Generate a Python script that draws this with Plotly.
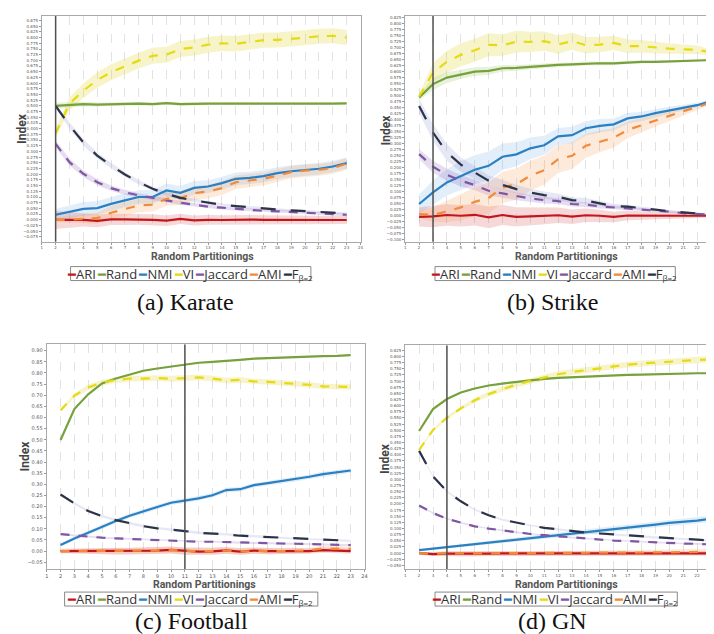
import plotly.graph_objects as go

# ---------------- data ----------------
x_vals = list(range(2, 24))
series_names = ["ARI", "Rand", "NMI", "VI", "Jaccard", "AMI", "F"]
name_subs = ["", "", "", "", "", "", "β=2"]
series_colors = ["#c3161c", "#76a13c", "#2b80c2", "#e6da12", "#7e57a4", "#f28a3a", "#2c3346"]
band_colors = ["rgba(214,60,60,0.20)", "rgba(150,190,90,0.22)", "rgba(110,170,225,0.20)",
               "rgba(225,215,60,0.28)", "rgba(140,100,185,0.22)", "rgba(245,160,90,0.22)",
               "rgba(120,130,200,0.18)"]
series_dash = ["solid", "solid", "solid", "dash", "dash", "dash", "longdash"]

captions = ["(a) Karate", "(b) Strike", "(c) Football", "(d) GN"]
x_title = "Random Partitionings"
y_title = "Index"
marker_x = [2, 3, 11, 4]

# Karate
k_ari = [0.000, 0.000, 0.000, -0.005, 0.002, 0.002, 0.002, 0.000, -0.004, 0.004, -0.003, 0.000, -0.001, 0.001, 0.001, 0.000, 0.000, 0.000, -0.001, -0.001, -0.001, -0.001]
k_rand = [0.500, 0.505, 0.508, 0.506, 0.508, 0.510, 0.510, 0.508, 0.512, 0.508, 0.510, 0.510, 0.510, 0.511, 0.511, 0.510, 0.510, 0.511, 0.510, 0.510, 0.510, 0.511]
k_nmi = [0.022, 0.034, 0.048, 0.051, 0.070, 0.085, 0.100, 0.100, 0.129, 0.118, 0.140, 0.146, 0.161, 0.180, 0.184, 0.192, 0.205, 0.213, 0.219, 0.224, 0.234, 0.249]
k_vi = [0.380, 0.510, 0.567, 0.614, 0.648, 0.674, 0.699, 0.720, 0.725, 0.750, 0.757, 0.769, 0.775, 0.773, 0.782, 0.789, 0.790, 0.794, 0.800, 0.806, 0.808, 0.800]
k_jac = [0.333, 0.253, 0.202, 0.165, 0.139, 0.121, 0.107, 0.095, 0.085, 0.075, 0.066, 0.058, 0.053, 0.048, 0.044, 0.039, 0.037, 0.034, 0.031, 0.028, 0.025, 0.022]
k_ami = [0.000, 0.000, 0.004, 0.007, 0.031, 0.048, 0.063, 0.066, 0.092, 0.095, 0.117, 0.124, 0.139, 0.165, 0.173, 0.180, 0.194, 0.209, 0.216, 0.219, 0.227, 0.246]
k_f = [0.500, 0.414, 0.340, 0.282, 0.238, 0.199, 0.165, 0.136, 0.114, 0.096, 0.085, 0.075, 0.066, 0.060, 0.054, 0.048, 0.045, 0.041, 0.037, 0.034, 0.031, 0.028]
k_ari_e = [0.040, 0.035, 0.030, 0.028, 0.025, 0.025, 0.024, 0.024, 0.023, 0.023, 0.022, 0.022, 0.021, 0.021, 0.020, 0.020, 0.020, 0.019, 0.019, 0.018, 0.018, 0.018]
k_rand_e = [0.014, 0.012, 0.010, 0.009, 0.008, 0.008, 0.008, 0.007, 0.007, 0.007, 0.006, 0.006, 0.006, 0.006, 0.006, 0.005, 0.005, 0.005, 0.005, 0.005, 0.005, 0.005]
k_nmi_e = [0.025, 0.028, 0.030, 0.030, 0.030, 0.030, 0.030, 0.030, 0.030, 0.030, 0.030, 0.028, 0.028, 0.028, 0.027, 0.027, 0.026, 0.026, 0.025, 0.025, 0.025, 0.025]
k_vi_e = [0.020, 0.028, 0.032, 0.034, 0.035, 0.035, 0.035, 0.035, 0.035, 0.035, 0.035, 0.035, 0.034, 0.034, 0.033, 0.033, 0.033, 0.033, 0.033, 0.033, 0.033, 0.033]
k_jac_e = [0.015, 0.015, 0.014, 0.013, 0.012, 0.011, 0.010, 0.010, 0.009, 0.009, 0.008, 0.008, 0.008, 0.007, 0.007, 0.007, 0.007, 0.006, 0.006, 0.006, 0.006, 0.006]
k_ami_e = [0.010, 0.015, 0.020, 0.025, 0.030, 0.030, 0.030, 0.030, 0.030, 0.030, 0.030, 0.030, 0.030, 0.030, 0.030, 0.028, 0.028, 0.027, 0.027, 0.026, 0.026, 0.025]
k_f_e = [0.010, 0.014, 0.014, 0.013, 0.012, 0.011, 0.010, 0.009, 0.008, 0.008, 0.007, 0.007, 0.007, 0.006, 0.006, 0.006, 0.006, 0.005, 0.005, 0.005, 0.005, 0.005]

# Strike
s_ari = [-0.005, -0.003, 0.003, 0.000, 0.004, -0.007, 0.003, -0.005, -0.003, -0.001, 0.002, -0.004, 0.002, 0.000, -0.005, 0.001, 0.000, 0.000, 0.000, 0.000, 0.000, 0.000]
s_rand = [0.493, 0.549, 0.576, 0.590, 0.601, 0.604, 0.615, 0.617, 0.622, 0.625, 0.629, 0.631, 0.635, 0.636, 0.635, 0.640, 0.642, 0.642, 0.643, 0.644, 0.646, 0.649]
s_nmi = [0.049, 0.097, 0.139, 0.167, 0.192, 0.208, 0.246, 0.256, 0.281, 0.294, 0.331, 0.336, 0.365, 0.375, 0.381, 0.406, 0.414, 0.428, 0.440, 0.451, 0.461, 0.478]
s_vi = [0.497, 0.597, 0.642, 0.671, 0.690, 0.713, 0.711, 0.726, 0.725, 0.728, 0.714, 0.728, 0.711, 0.714, 0.721, 0.707, 0.707, 0.701, 0.697, 0.694, 0.692, 0.681]
s_jac = [0.257, 0.204, 0.171, 0.146, 0.128, 0.104, 0.093, 0.081, 0.072, 0.065, 0.061, 0.049, 0.046, 0.039, 0.035, 0.032, 0.026, 0.021, 0.017, 0.011, 0.008, 0.004]
s_ami = [0.007, 0.004, 0.018, 0.035, 0.058, 0.074, 0.118, 0.132, 0.167, 0.190, 0.236, 0.250, 0.292, 0.310, 0.325, 0.358, 0.378, 0.397, 0.417, 0.436, 0.453, 0.472]
s_f = [0.458, 0.347, 0.264, 0.213, 0.180, 0.146, 0.129, 0.111, 0.097, 0.086, 0.079, 0.065, 0.063, 0.051, 0.040, 0.038, 0.031, 0.025, 0.019, 0.014, 0.008, 0.004]
s_ari_e = [0.040, 0.045, 0.045, 0.045, 0.045, 0.045, 0.042, 0.040, 0.038, 0.035, 0.032, 0.030, 0.028, 0.025, 0.022, 0.020, 0.018, 0.016, 0.014, 0.012, 0.010, 0.008]
s_rand_e = [0.012, 0.025, 0.022, 0.020, 0.018, 0.016, 0.014, 0.012, 0.011, 0.010, 0.009, 0.008, 0.008, 0.007, 0.007, 0.006, 0.006, 0.005, 0.005, 0.005, 0.004, 0.004]
s_nmi_e = [0.040, 0.050, 0.055, 0.060, 0.060, 0.060, 0.055, 0.050, 0.045, 0.040, 0.035, 0.035, 0.030, 0.028, 0.025, 0.022, 0.020, 0.018, 0.015, 0.012, 0.010, 0.008]
s_vi_e = [0.010, 0.040, 0.045, 0.048, 0.048, 0.048, 0.045, 0.045, 0.042, 0.040, 0.038, 0.036, 0.034, 0.032, 0.030, 0.028, 0.026, 0.024, 0.022, 0.020, 0.018, 0.012]
s_jac_e = [0.020, 0.025, 0.025, 0.024, 0.022, 0.020, 0.018, 0.016, 0.015, 0.014, 0.012, 0.011, 0.010, 0.009, 0.008, 0.007, 0.006, 0.005, 0.005, 0.004, 0.004, 0.003]
s_ami_e = [0.015, 0.030, 0.045, 0.055, 0.060, 0.065, 0.065, 0.065, 0.062, 0.060, 0.058, 0.055, 0.050, 0.045, 0.040, 0.035, 0.030, 0.025, 0.020, 0.016, 0.012, 0.008]
s_f_e = [0.030, 0.035, 0.035, 0.030, 0.026, 0.022, 0.020, 0.018, 0.016, 0.015, 0.014, 0.012, 0.011, 0.010, 0.009, 0.008, 0.007, 0.006, 0.005, 0.004, 0.004, 0.003]

# Football
f_ari = [0.000, 0.000, 0.000, 0.000, 0.000, 0.000, 0.001, 0.002, 0.005, 0.000, -0.002, -0.001, 0.003, -0.002, 0.002, 0.000, 0.000, 0.002, 0.000, 0.004, 0.002, 0.000]
f_rand = [0.499, 0.638, 0.704, 0.753, 0.775, 0.793, 0.810, 0.820, 0.829, 0.838, 0.846, 0.850, 0.856, 0.859, 0.864, 0.867, 0.870, 0.873, 0.874, 0.876, 0.877, 0.880]
f_nmi = [0.027, 0.057, 0.082, 0.109, 0.135, 0.159, 0.180, 0.198, 0.217, 0.226, 0.237, 0.251, 0.274, 0.278, 0.296, 0.305, 0.314, 0.323, 0.334, 0.346, 0.353, 0.362]
f_vi = [0.632, 0.698, 0.735, 0.757, 0.768, 0.775, 0.775, 0.777, 0.774, 0.778, 0.780, 0.775, 0.766, 0.769, 0.762, 0.760, 0.756, 0.751, 0.747, 0.740, 0.738, 0.737]
f_jac = [0.076, 0.070, 0.064, 0.060, 0.057, 0.054, 0.051, 0.049, 0.048, 0.045, 0.042, 0.042, 0.040, 0.037, 0.037, 0.036, 0.034, 0.033, 0.031, 0.030, 0.028, 0.027]
f_ami = [0.000, 0.000, 0.000, 0.000, 0.000, 0.000, 0.001, 0.002, 0.004, 0.000, -0.001, 0.000, 0.002, -0.001, 0.001, 0.000, 0.000, 0.001, 0.003, 0.012, 0.012, 0.010]
f_f = [0.254, 0.214, 0.180, 0.157, 0.139, 0.124, 0.112, 0.102, 0.097, 0.090, 0.082, 0.079, 0.075, 0.069, 0.066, 0.061, 0.058, 0.055, 0.052, 0.051, 0.049, 0.046]
f_ari_e = [0.010, 0.012, 0.013, 0.014, 0.015, 0.015, 0.015, 0.015, 0.016, 0.016, 0.016, 0.016, 0.015, 0.015, 0.014, 0.014, 0.013, 0.013, 0.012, 0.012, 0.012, 0.012]
f_rand_e = [0.004, 0.004, 0.003, 0.003, 0.003, 0.003, 0.003, 0.003, 0.003, 0.003, 0.003, 0.003, 0.003, 0.003, 0.003, 0.003, 0.003, 0.003, 0.003, 0.003, 0.003, 0.003]
f_nmi_e = [0.006, 0.008, 0.009, 0.010, 0.010, 0.010, 0.010, 0.010, 0.010, 0.010, 0.010, 0.010, 0.010, 0.010, 0.010, 0.010, 0.010, 0.010, 0.010, 0.010, 0.010, 0.010]
f_vi_e = [0.006, 0.010, 0.012, 0.013, 0.013, 0.013, 0.013, 0.013, 0.013, 0.013, 0.013, 0.013, 0.013, 0.013, 0.012, 0.012, 0.012, 0.012, 0.012, 0.012, 0.012, 0.012]
f_jac_e = [0.004, 0.004, 0.004, 0.004, 0.004, 0.004, 0.004, 0.004, 0.004, 0.004, 0.004, 0.004, 0.004, 0.004, 0.004, 0.004, 0.004, 0.004, 0.004, 0.004, 0.004, 0.004]
f_ami_e = [0.008, 0.010, 0.012, 0.013, 0.014, 0.014, 0.014, 0.015, 0.015, 0.015, 0.015, 0.015, 0.015, 0.015, 0.014, 0.014, 0.013, 0.013, 0.012, 0.012, 0.012, 0.012]
f_f_e = [0.005, 0.006, 0.006, 0.006, 0.006, 0.006, 0.006, 0.006, 0.006, 0.006, 0.006, 0.005, 0.005, 0.005, 0.005, 0.005, 0.005, 0.005, 0.005, 0.005, 0.005, 0.005]

# GN
g_ari = [0.000, -0.004, -0.002, -0.003, -0.004, -0.002, -0.001, -0.001, -0.001, -0.001, -0.001, -0.001, -0.001, 0.000, 0.001, -0.001, -0.001, -0.001, 0.000, 0.000, -0.001, -0.001]
g_rand = [0.497, 0.586, 0.627, 0.654, 0.670, 0.682, 0.690, 0.697, 0.702, 0.709, 0.713, 0.716, 0.718, 0.721, 0.724, 0.725, 0.726, 0.728, 0.729, 0.730, 0.732, 0.732]
g_nmi = [0.012, 0.018, 0.026, 0.031, 0.036, 0.043, 0.050, 0.055, 0.061, 0.068, 0.073, 0.080, 0.085, 0.092, 0.097, 0.103, 0.109, 0.116, 0.123, 0.127, 0.132, 0.140]
g_vi = [0.420, 0.501, 0.551, 0.589, 0.622, 0.647, 0.667, 0.686, 0.701, 0.714, 0.728, 0.737, 0.745, 0.753, 0.760, 0.767, 0.772, 0.776, 0.779, 0.782, 0.785, 0.789]
g_jac = [0.194, 0.163, 0.140, 0.123, 0.109, 0.100, 0.092, 0.084, 0.078, 0.073, 0.068, 0.063, 0.059, 0.055, 0.051, 0.049, 0.046, 0.043, 0.041, 0.039, 0.038, 0.035]
g_ami = [0.000, -0.003, -0.001, -0.002, -0.003, -0.001, 0.000, 0.000, 0.000, 0.000, 0.000, 0.000, 0.000, 0.001, 0.001, 0.001, 0.001, 0.002, 0.003, 0.004, 0.005, 0.006]
g_f = [0.416, 0.312, 0.251, 0.211, 0.177, 0.154, 0.136, 0.123, 0.113, 0.103, 0.096, 0.089, 0.084, 0.080, 0.076, 0.072, 0.068, 0.063, 0.061, 0.058, 0.055, 0.051]
g_ari_e = [0.006, 0.008, 0.009, 0.010, 0.010, 0.010, 0.010, 0.010, 0.010, 0.010, 0.010, 0.010, 0.010, 0.010, 0.010, 0.010, 0.010, 0.010, 0.010, 0.010, 0.010, 0.010]
g_rand_e = [0.004, 0.003, 0.003, 0.003, 0.003, 0.003, 0.003, 0.003, 0.003, 0.003, 0.003, 0.003, 0.003, 0.003, 0.003, 0.003, 0.003, 0.003, 0.003, 0.003, 0.003, 0.003]
g_nmi_e = [0.004, 0.005, 0.006, 0.007, 0.008, 0.008, 0.009, 0.009, 0.010, 0.010, 0.010, 0.011, 0.011, 0.011, 0.012, 0.012, 0.012, 0.012, 0.013, 0.013, 0.013, 0.013]
g_vi_e = [0.004, 0.006, 0.007, 0.008, 0.009, 0.010, 0.010, 0.011, 0.011, 0.011, 0.012, 0.012, 0.012, 0.012, 0.012, 0.012, 0.012, 0.012, 0.013, 0.013, 0.013, 0.013]
g_jac_e = [0.003, 0.003, 0.003, 0.003, 0.003, 0.003, 0.003, 0.003, 0.003, 0.003, 0.003, 0.003, 0.003, 0.003, 0.003, 0.003, 0.003, 0.003, 0.003, 0.003, 0.003, 0.003]
g_ami_e = [0.006, 0.008, 0.009, 0.010, 0.010, 0.010, 0.010, 0.010, 0.010, 0.010, 0.010, 0.010, 0.010, 0.010, 0.011, 0.011, 0.011, 0.012, 0.012, 0.012, 0.012, 0.012]
g_f_e = [0.004, 0.004, 0.004, 0.004, 0.004, 0.004, 0.004, 0.004, 0.004, 0.004, 0.004, 0.004, 0.004, 0.004, 0.004, 0.004, 0.004, 0.004, 0.004, 0.004, 0.004, 0.004]

panels = [
    ([k_ari, k_rand, k_nmi, k_vi, k_jac, k_ami, k_f],
     [k_ari_e, k_rand_e, k_nmi_e, k_vi_e, k_jac_e, k_ami_e, k_f_e]),
    ([s_ari, s_rand, s_nmi, s_vi, s_jac, s_ami, s_f],
     [s_ari_e, s_rand_e, s_nmi_e, s_vi_e, s_jac_e, s_ami_e, s_f_e]),
    ([f_ari, f_rand, f_nmi, f_vi, f_jac, f_ami, f_f],
     [f_ari_e, f_rand_e, f_nmi_e, f_vi_e, f_jac_e, f_ami_e, f_f_e]),
    ([g_ari, g_rand, g_nmi, g_vi, g_jac, g_ami, g_f],
     [g_ari_e, g_rand_e, g_nmi_e, g_vi_e, g_jac_e, g_ami_e, g_f_e]),
]

# ---------------- layout geometry (pixels) ----------------
W, H = 714, 634
boxes = [(32, 353, 7, 233), (398, 706, 7, 233), (37, 357, 336, 561), (398, 706, 337, 561)]
x_ranges = [[1, 24], [1, 23], [1, 24], [1, 23]]
y_ranges = [[-0.096, 0.895], [-0.108, 0.833], [-0.081, 0.928], [-0.065, 0.845]]
y_ticks = [(-0.075, 0.875, 0.025, ".3f"), (-0.100, 0.825, 0.025, ".3f"),
           (-0.05, 0.90, 0.05, ".2f"), (-0.050, 0.825, 0.025, ".3f")]
tick_font_size = [4, 4, 5, 4]
xtitle_pos = [(194, 248), (560, 248), (196, 576), (560, 576)]
ytitle_pos = [(12, 120), (378, 121), (15, 448), (378, 450)]
legend_box = [(61, 303, 258, 272), (428, 670, 258, 272), (55, 310, 584, 598), (428, 672, 584, 598)]
caption_pos = [(177, 293), (546, 293), (183, 613), (546, 613)]

fig = go.Figure()

for p, (vals, errs) in enumerate(panels):
    xa = "x" if p == 0 else f"x{p+1}"
    ya = "y" if p == 0 else f"y{p+1}"
    for i in range(len(series_names)):
        up = [v + e for v, e in zip(vals[i], errs[i])]
        lo = [v - e for v, e in zip(vals[i], errs[i])]
        fig.add_trace(go.Scatter(
            x=x_vals + x_vals[::-1], y=up + lo[::-1], fill="toself",
            fillcolor=band_colors[i], line=dict(width=0), mode="lines",
            hoverinfo="skip", showlegend=False, xaxis=xa, yaxis=ya))
    for i in range(len(series_names)):
        fig.add_trace(go.Scatter(
            x=x_vals, y=vals[i], mode="lines", name=series_names[i] + name_subs[i],
            line=dict(color=series_colors[i], width=2.2, dash=series_dash[i]),
            showlegend=False, xaxis=xa, yaxis=ya))

layout = dict(width=W, height=H, margin=dict(l=0, r=0, t=0, b=0),
              paper_bgcolor="white", plot_bgcolor="white", showlegend=False)

annotations = []
shapes = []
for p in range(4):
    l, r, t, b = boxes[p]
    sx = "" if p == 0 else str(p + 1)
    y0, y1, dt, fmt = y_ticks[p]
    n = int(round((y1 - y0) / dt))
    tv = [round(y0 + k * dt, 3) for k in range(n + 1)]
    layout["xaxis" + sx] = dict(
        domain=[l / W, r / W], range=x_ranges[p], anchor="y" + sx,
        tickmode="linear", tick0=1, dtick=1,
        showgrid=True, gridcolor="#e2e2e2", griddash="dash", gridwidth=1,
        showline=True, linecolor="#a8a8a8", linewidth=1, mirror=True,
        ticks="outside", ticklen=2, tickcolor="#999",
        tickfont=dict(size=tick_font_size[p], color="#555", family="DejaVu Sans"),
        zeroline=False)
    layout["yaxis" + sx] = dict(
        domain=[1 - b / H, 1 - t / H], range=y_ranges[p], anchor="x" + sx,
        tickmode="array", tickvals=tv, tickformat=fmt,
        showgrid=False, zeroline=False,
        showline=True, linecolor="#a8a8a8", linewidth=1, mirror=True,
        ticks="outside", ticklen=2, tickcolor="#999",
        tickfont=dict(size=tick_font_size[p], color="#555", family="DejaVu Sans"))
    shapes.append(dict(type="line", xref="x" + sx, yref="y" + sx + " domain",
                       x0=marker_x[p], x1=marker_x[p], y0=0, y1=1,
                       line=dict(color="#505050", width=1.5)))
    tx, ty = xtitle_pos[p]
    annotations.append(dict(
        text=x_title, xref="paper", yref="paper", x=tx / W, y=1 - ty / H,
        xanchor="center", yanchor="middle", showarrow=False,
        font=dict(size=10.5, color="#555", family="Roboto", weight="bold")))
    yx, yy = ytitle_pos[p]
    annotations.append(dict(
        text=y_title, xref="paper", yref="paper", x=yx / W, y=1 - yy / H,
        xanchor="center", yanchor="middle", showarrow=False, textangle=-90,
        font=dict(size=12, color="#444", family="Roboto", weight="bold")))
    bl, br, bt, bb = legend_box[p]
    shapes.append(dict(type="rect", xref="paper", yref="paper",
                       x0=bl / W, x1=br / W, y0=1 - bb / H, y1=1 - bt / H,
                       line=dict(color="#888", width=1), fillcolor="white", layer="below"))
    parts = []
    for nme, sub, col in zip(series_names, name_subs, series_colors):
        sub_html = (f'<span style="font-size:8px;baseline-shift:-2px">{sub}</span>'
                    if sub else "")
        parts.append(f'<span style="color:{col}">━</span>{nme}{sub_html}&#8201;')
    annotations.append(dict(
        text="".join(parts), xref="paper", yref="paper",
        x=(bl + br) / 2 / W, y=1 - (bt + bb) / 2 / H,
        xanchor="center", yanchor="middle", showarrow=False,
        font=dict(size=13, color="#333", family="Open Sans")))
    cx, cy = caption_pos[p]
    annotations.append(dict(
        text=captions[p], xref="paper", yref="paper", x=cx / W, y=1 - cy / H,
        xanchor="center", yanchor="middle", showarrow=False,
        font=dict(size=24, color="#111", family="Liberation Serif")))

layout["annotations"] = annotations
layout["shapes"] = shapes
fig.update_layout(**layout)
fig.write_html("out.html")
